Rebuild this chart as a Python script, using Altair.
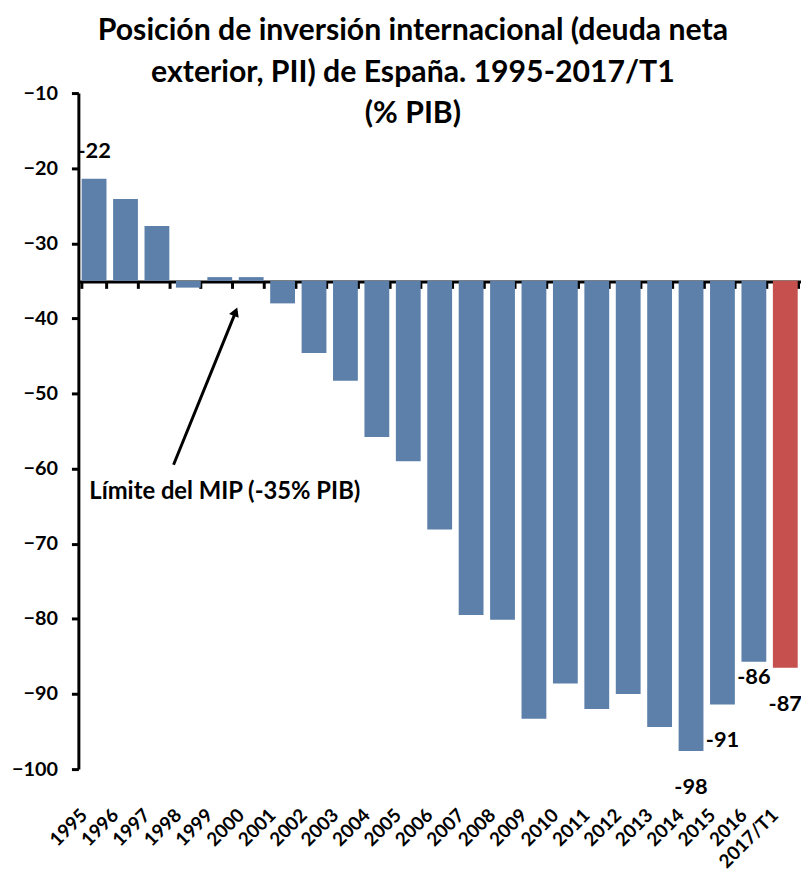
import altair as alt
import pandas as pd

years = ["1995", "1996", "1997", "1998", "1999", "2000", "2001", "2002", "2003",
         "2004", "2005", "2006", "2007", "2008", "2009", "2010", "2011", "2012",
         "2013", "2014", "2015", "2016", "2017/T1"]
values = [-21.4, -24.1, -27.7, -35.9, -34.5, -34.5, -38.0, -44.6, -48.3,
          -55.8, -59.0, -68.1, -79.5, -80.1, -93.3, -88.6, -92.0, -90.0,
          -94.4, -97.6, -91.4, -85.7, -86.5]
groups = ["anual"] * 22 + ["trimestre"]

label_years = ["1995", "2014", "2015", "2016", "2017/T1"]
label_texts = ["-22", "-98", "-91", "-86", "-87"]

baseline = -35
FONT = "Lato"

df = pd.DataFrame({"year": years, "value": values, "group": groups})
lab = df[df["year"].isin(label_years)].copy()
lab["text"] = [label_texts[label_years.index(y)] for y in lab["year"]]

xscale = alt.Scale(domain=years, paddingInner=0.21, paddingOuter=0.105)
yscale = alt.Scale(domain=[-100, -10], nice=False, zero=False)

bars = alt.Chart(df).mark_bar().encode(
    x=alt.X("year:N", sort=years, scale=xscale, title=None,
            axis=alt.Axis(orient="bottom", domain=False, ticks=False,
                          labelAngle=-45, labelAlign="right", labelBaseline="middle",
                          labelFont=FONT, labelFontSize=19, labelFontWeight="bold",
                          labelColor="black", labelPadding=43, labelOffset=-10)),
    y=alt.Y("value:Q", scale=yscale, title=None,
            axis=alt.Axis(values=list(range(-10, -101, -10)), grid=False,
                          domainColor="black", domainWidth=3, tickColor="black",
                          tickWidth=3, tickSize=7, labelPadding=14,
                          labelFont=FONT, labelFontSize=20, labelFontWeight="bold",
                          labelColor="black")),
    y2=alt.datum(baseline),
    color=alt.Color("group:N", scale=alt.Scale(domain=["anual", "trimestre"],
                                               range=["#5d80aa", "#c6504d"]),
                    legend=None),
)

base_axis = alt.Axis(orient="bottom", offset=-492, labels=False, domain=True,
                     domainColor="black", domainWidth=3, ticks=True,
                     tickBand="extent", tickColor="black", tickWidth=3, tickSize=7)

layers = [bars]
dys = {"1995": -28, "2014": 36, "2015": 36, "2016": 16, "2017/T1": 37}
for i, (yr, sub) in enumerate(lab.groupby("year", sort=False)):
    enc_x = alt.X("year:N", sort=years, scale=xscale, title=None,
                  axis=base_axis if i == 0 else None)
    layers.append(
        alt.Chart(sub).mark_text(font=FONT, fontSize=22, fontWeight="bold",
                                 color="black", baseline="middle", dy=dys[yr]).encode(
            x=enc_x, y=alt.Y("value:Q", scale=yscale), text="text:N")
    )

one = pd.DataFrame({"a": [0]})
arrow = alt.Chart(one).mark_rule(color="black", strokeWidth=3).encode(
    x=alt.value(96), y=alt.value(375), x2=alt.value(159), y2=alt.value(220))
head = alt.Chart(one).mark_point(shape="triangle", filled=True, color="black",
                                 size=110, angle=22, opacity=1).encode(
    x=alt.value(158), y=alt.value(222))
note = alt.Chart(one).mark_text(font=FONT, fontSize=24, fontWeight="bold",
                                color="black", align="left", baseline="middle").encode(
    x=alt.value(11), y=alt.value(403), text=alt.value("Límite del MIP (-35% PIB)"))

chart = alt.layer(*layers, arrow, head, note).resolve_axis(x="independent").properties(
    width=729, height=682,
    autosize=alt.AutoSizeParams(type="none"),
    padding={"left": 71, "top": 82, "right": 0, "bottom": 103},
    title=alt.TitleParams(
        text=["Posición de inversión internacional (deuda neta",
              "exterior, PII) de España. 1995-2017/T1", "(% PIB)"],
        font=FONT, fontSize=30.5, fontWeight="bold", color="black",
        lineHeight=42, anchor="middle", frame="group", dx=-27, offset=-47),
).configure_view(stroke=None)

chart.save("out.html", embed_options={"renderer": "svg", "actions": False})
